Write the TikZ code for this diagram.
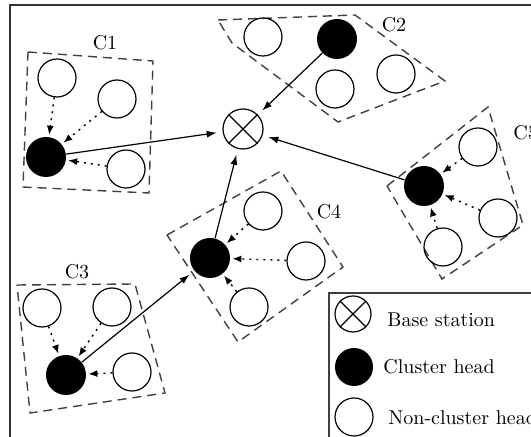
\documentclass[tikz,border=0pt]{standalone}
\usetikzlibrary{arrows.meta}
\begin{document}
\begin{tikzpicture}[x=0.5pt,y=-0.5pt,
 sensor/.style={circle,draw,line width=0.6pt,minimum size=19pt,inner sep=0pt},
 head/.style={circle,fill=black,minimum size=20pt,inner sep=0pt},
 bsnode/.style={circle,draw,line width=0.6pt,minimum size=20pt,inner sep=0pt},
 clusterbox/.style={draw=black!75,line width=0.7pt,dash pattern=on 4.5pt off 3pt},
 link/.style={line width=0.6pt,-{Latex[length=5pt,width=3.5pt]},shorten >=3pt},
 member/.style={line width=0.7pt,dash pattern=on 1pt off 2.5pt,-{Latex[length=4.5pt,width=3.5pt]},shorten >=1pt},
 lab/.style={font=\normalsize,inner sep=0pt}]
\useasboundingbox (0,0) rectangle (531,437);
% frame
\draw[black!80,line width=0.9pt] (10,445) -- (10,5) -- (540,5);
% cluster boxes
\draw[clusterbox] (28,52) -- (153,61) -- (149,193) -- (23,187) -- cycle;
\draw[clusterbox] (218,20) -- (355,15) -- (445,81) -- (338,122) -- (232,43) -- cycle;
\draw[clusterbox] (17,285) -- (135,284) -- (165,393) -- (30,413) -- cycle;
\draw[clusterbox] (167,235) -- (281,171) -- (343,267) -- (238,342) -- cycle;
\draw[clusterbox] (387,186) -- (488,107) -- (523,225) -- (442,279) -- cycle;
% labels
\node[lab] (l1) at (105,43) {C1};
\node[lab] (l2) at (394,25) {C2};
\node[lab] (l3) at (77,272) {C3};
\node[lab] (l4) at (329,212) {C4};
\node[lab,anchor=west] (l5) at (513,133) {C5};
% base station
\node[bsnode] (bs) at (243,129) {};
\draw[line width=0.6pt] (bs.45) -- (bs.225) (bs.135) -- (bs.315);
% C1
\node[sensor] (c1a) at (57,78) {};
\node[sensor] (c1b) at (117,99) {};
\node[head] (c1h) at (46,157) {};
\node[sensor] (c1c) at (126,169) {};
% C2
\node[sensor] (c2a) at (263,37) {};
\node[head] (c2h) at (337,39) {};
\node[sensor] (c2b) at (396,74) {};
\node[sensor] (c2c) at (335,89) {};
% C3
\node[sensor] (c3a) at (42,308) {};
\node[sensor] (c3b) at (112,307) {};
\node[head] (c3h) at (66,375) {};
\node[sensor] (c3c) at (132,372) {};
% C4
\node[head] (c4h) at (210,258) {};
\node[sensor] (c4a) at (263,211) {};
\node[sensor] (c4b) at (306,261) {};
\node[sensor] (c4c) at (249,307) {};
% C5
\node[head] (c5h) at (424,186) {};
\node[sensor] (c5a) at (478,147) {};
\node[sensor] (c5b) at (498,218) {};
\node[sensor] (c5c) at (443,247) {};
% member links
\foreach \c in {1,3,4,5}{
  \draw[member] (c\c a) -- (c\c h);
  \draw[member] (c\c b) -- (c\c h);
  \draw[member] (c\c c) -- (c\c h);
}
% head links
\draw[link] (c1h) -- (bs);
\draw[link] (c2h) -- (bs);
\draw[link] (c4h) -- (bs);
\draw[link] (c5h) -- (bs);
\draw[link] (c3h) -- (c4h);
% legend
\draw[black!75,line width=0.8pt] (329,445) -- (329,293) -- (540,293);
\node[bsnode,minimum size=18pt] (lbs) at (353,314) {};
\draw[line width=0.6pt] (lbs.45) -- (lbs.225) (lbs.135) -- (lbs.315);
\node[head,minimum size=19pt] (lch) at (354,367) {};
\node[sensor] (lnc) at (354,417) {};
\node[lab,anchor=west] (tbs) at (387,320) {Base station};
\node[lab,anchor=west] (tch) at (383,367) {Cluster head};
\node[lab,anchor=west] (tnc) at (388,418) {Non-cluster head};
\end{tikzpicture}
\end{document}
